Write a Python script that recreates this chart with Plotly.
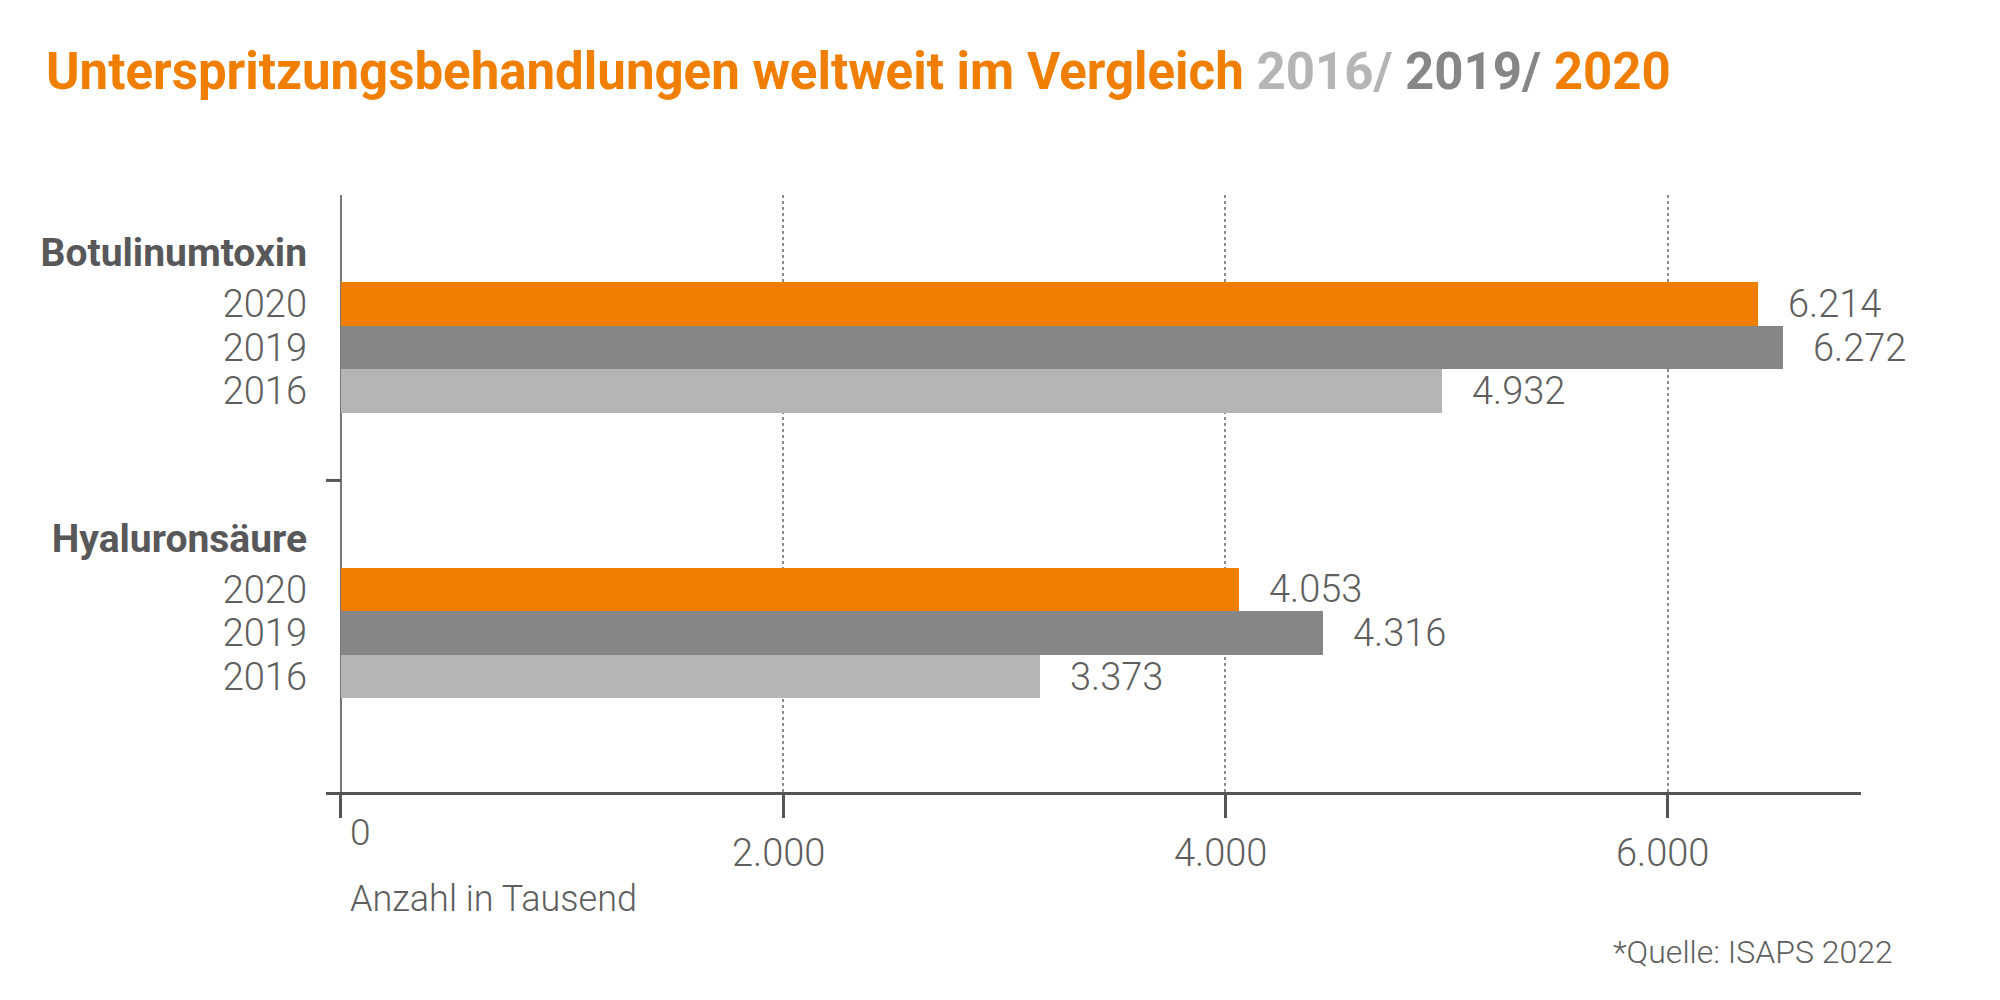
import plotly.graph_objects as go

# Daten (Anzahl in Tausend)
groups = ["Botulinumtoxin", "Hyaluronsäure"]
years = ["2020", "2019", "2016"]
# Balkenlängen wie im Original gezeichnet
bar_2020 = [6410, 4060]
bar_2019 = [6520, 4440]
bar_2016 = [4980, 3160]
# beschriftete Werte
label_2020 = [6214, 4053]
label_2019 = [6272, 4316]
label_2016 = [4932, 3373]
x_ticks = [0, 2000, 4000, 6000]

ORANGE = "#F07E00"
DARK_GREY = "#868686"
LIGHT_GREY = "#B5B5B5"
TEXT = "#5E5E5E"
FONT = "Roboto"

# Layout in "Zeilen" (eine Zeile = eine Balkenhöhe)
group_top = [0.0, 6.55]
label_off = 1.33
bar_off = 2.5
y_max = 13.7
x_min = -67
x_max = 6875


def de(v):
    return f"{v:,}".replace(",", ".")


series = [
    (years[0], bar_2020, label_2020, ORANGE),
    (years[1], bar_2019, label_2019, DARK_GREY),
    (years[2], bar_2016, label_2016, LIGHT_GREY),
]

fig = go.Figure()
tickvals, ticktext = [], []
annotations = []

for g, top in zip(groups, group_top):
    tickvals.append(top + label_off)
    ticktext.append(f"<b><span style='color:#58585A;font-size:39px'>{g}</span></b>")

for i, (year, bars, labels, color) in enumerate(series):
    ys = [top + bar_off + i for top in group_top]
    fig.add_trace(go.Bar(
        x=bars, y=ys, orientation="h", width=1.0,
        marker=dict(color=color, line=dict(width=0)),
        name=year, showlegend=False, hoverinfo="x",
    ))
    for y in ys:
        tickvals.append(y)
        ticktext.append(year)
    for b, lab, y in zip(bars, labels, ys):
        annotations.append(dict(
            x=b, y=y, xref="x", yref="y", text=de(lab), showarrow=False,
            xanchor="left", yanchor="middle", xshift=28,
            font=dict(family=FONT, size=38, color=TEXT, weight=300),
        ))

# Beschriftung der x-Achse: "0" sitzt höher und rechts vom Strich
for v in x_ticks:
    if v == 0:
        annotations.append(dict(
            x=v, y=0, xref="x", yref="paper", text="0", showarrow=False,
            xanchor="left", yanchor="middle", xshift=7, yshift=-40,
            font=dict(family=FONT, size=37, color=TEXT, weight=300),
        ))
    else:
        annotations.append(dict(
            x=v, y=0, xref="x", yref="paper", text=de(v), showarrow=False,
            xanchor="center", yanchor="middle", xshift=-5, yshift=-61,
            font=dict(family=FONT, size=38, color=TEXT, weight=300),
        ))

annotations.append(dict(
    x=0, y=0, xref="x", yref="paper", text="Anzahl in Tausend", showarrow=False,
    xanchor="left", yanchor="middle", xshift=7, yshift=-107,
    font=dict(family=FONT, size=36, color=TEXT, weight=300),
))
annotations.append(dict(
    x=1, y=0, xref="paper", yref="paper", text="*Quelle: ISAPS 2022", showarrow=False,
    xanchor="right", yanchor="middle", xshift=34, yshift=-160,
    font=dict(family=FONT, size=32, color=TEXT, weight=300),
))

# kleiner Strich zwischen den Gruppen
fig.add_shape(type="line", xref="x", yref="y",
              x0=x_min, x1=0, y0=group_top[1], y1=group_top[1],
              line=dict(color="#555555", width=3))

title = (
    f"<span style='color:{ORANGE}'>Unterspritzungsbehandlungen weltweit im Vergleich </span>"
    f"<span style='color:{LIGHT_GREY}'>2016/ </span>"
    f"<span style='color:{DARK_GREY}'>2019/ </span>"
    f"<span style='color:{ORANGE}'>2020</span>"
)

fig.update_layout(
    width=2000, height=1000,
    margin=dict(l=318, r=147, t=187, b=216),
    paper_bgcolor="white", plot_bgcolor="white",
    title=dict(text=title, x=0.019, xref="container", xanchor="left",
               y=0.937, yref="container", yanchor="middle",
               font=dict(family=FONT, size=51, weight=700)),
    annotations=annotations,
    bargap=0,
)

fig.update_xaxes(
    range=[x_min, x_max],
    tickvals=x_ticks,
    showticklabels=False,
    ticks="outside", ticklen=23, tickwidth=2.5, tickcolor="#555555",
    showline=True, linecolor="#555555", linewidth=3,
    showgrid=True, gridcolor="#8C8C8C", griddash="dot", gridwidth=1.5,
    zeroline=True, zerolinecolor="#777777", zerolinewidth=2,
)

fig.update_yaxes(
    range=[y_max, 0],
    tickvals=tickvals, ticktext=ticktext,
    showgrid=False, zeroline=False, showline=False, ticks="",
    tickfont=dict(family=FONT, size=38, color=TEXT, weight=300),
    ticklabelstandoff=18,
)

fig.write_html("out.html")
